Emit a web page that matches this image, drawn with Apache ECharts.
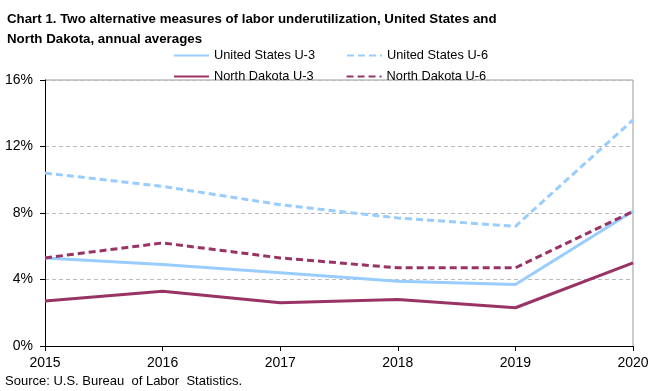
<!DOCTYPE html>
<html><head><meta charset="utf-8">
<script src="https://cdn.jsdelivr.net/npm/echarts@6/dist/echarts.min.js"></script>
<style>html,body{margin:0;padding:0;background:#fff}#c{width:660px;height:391px}</style>
</head><body><div id="c"></div>
<script>
const years = ['2015','2016','2017','2018','2019','2020'];
const usU3 = [5.3, 4.9, 4.4, 3.9, 3.7, 8.1];
const usU6 = [10.4, 9.6, 8.5, 7.7, 7.2, 13.6];
const ndU3 = [2.7, 3.3, 2.6, 2.8, 2.3, 5.0];
const ndU6 = [5.3, 6.2, 5.3, 4.7, 4.7, 8.1];
const blue = '#99CCFF', maroon = '#993366';
const font = 'Liberation Sans, Arial, sans-serif';
const chart = echarts.init(document.getElementById('c'));
function mk(name, data, color, type){
  return {name, type:'line', data, symbol:'none', smooth:false, animation:false,
    lineStyle:{color, width:3, type: type==='dashed'?[7,4]:'solid'}, itemStyle:{color}};
}
const legText = {fontFamily:font, fontSize:12.8, color:'#000'};
chart.setOption({
  animation:false,
  title:{text:'Chart 1. Two alternative measures of labor underutilization, United States and\nNorth Dakota, annual averages',
    left:2, top:4, textStyle:{fontFamily:font, fontSize:13.3, fontWeight:'bold', color:'#000', lineHeight:20}},
  legend:[
    {data:['United States U-3','United States U-6'], left:168, top:44, itemWidth:35, itemHeight:14, itemGap:31,
      itemStyle:{opacity:0}, textStyle:legText},
    {data:['North Dakota U-3','North Dakota U-6'], left:168, top:65, itemWidth:35, itemHeight:14, itemGap:32,
      itemStyle:{opacity:0}, textStyle:legText}
  ],
  graphic:[
    {type:'text', left:5, top:375, style:{text:'Source: U.S. Bureau  of Labor  Statistics.', font:'13px '+font, fill:'#000'}},
    {type:'line', shape:{x1:45,y1:80,x2:633,y2:80}, style:{stroke:'#999', lineWidth:1}},
    {type:'line', shape:{x1:633,y1:80,x2:633,y2:346}, style:{stroke:'#999', lineWidth:1}}
  ],
  grid:{left:45, right:27, top:80, bottom:45},
  xAxis:{type:'category', data:years, boundaryGap:false,
    axisLine:{lineStyle:{color:'#000', width:1}}, axisTick:{show:true, length:5, lineStyle:{color:'#000'}},
    axisLabel:{fontFamily:font, fontSize:14, color:'#000', margin:10}},
  yAxis:{type:'value', min:0, max:16, interval:4,
    axisLine:{show:true, lineStyle:{color:'#000'}}, axisTick:{show:true, length:5, lineStyle:{color:'#000'}},
    axisLabel:{fontFamily:font, fontSize:14, color:'#000', margin:12, formatter:'{value}%'},
    splitLine:{show:true, lineStyle:{color:'#bbb', type:[4,3]}}},
  series:[
    mk('United States U-3', usU3, blue, 'solid'),
    mk('United States U-6', usU6, blue, 'dashed'),
    mk('North Dakota U-3', ndU3, maroon, 'solid'),
    mk('North Dakota U-6', ndU6, maroon, 'dashed')
  ]
});
</script></body></html>
